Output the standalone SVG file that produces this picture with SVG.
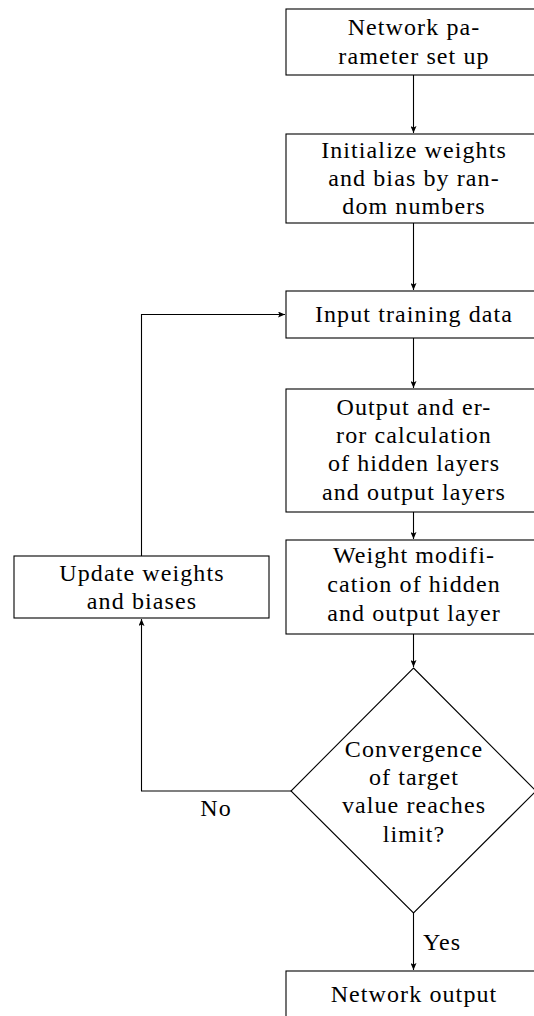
<svg xmlns="http://www.w3.org/2000/svg" width="534" height="1016" viewBox="0 0 534 1016">
<defs>
<marker id="ah" markerWidth="8" markerHeight="6" refX="7" refY="3" orient="auto" markerUnits="userSpaceOnUse">
<path d="M0,0 L7,3 L0,6 L1.5,3 Z" fill="#000"/>
</marker>
</defs>
<style>
.n{fill:#fff;stroke:#000;stroke-width:1.1}
.t{font-family:'Liberation Serif','Times New Roman',serif;font-size:24px;letter-spacing:1.1px;fill:#000;text-anchor:middle}
.c{fill:none;stroke:#000;stroke-width:1.1;marker-end:url(#ah)}
</style>
<rect width="534" height="1016" fill="#fff"/>
<g id="connectors">
<path class="c" d="M413.5,75 V133"/>
<path class="c" d="M413.5,223 V290"/>
<path class="c" d="M413.5,338 V388"/>
<path class="c" d="M413.5,512 V539"/>
<path class="c" d="M413.5,634 V667"/>
<path class="c" d="M141.5,556 V314.5 H285"/>
<path class="c" d="M291,791 H141.5 V619"/>
<path class="c" d="M413.5,913 V970"/>
<text class="t" x="216" y="816">No</text>
<text class="t" x="423" y="950" style="text-anchor:start">Yes</text>
</g>
<g id="n1"><rect class="n" x="286" y="9" width="255" height="66"/>
<text class="t" x="414" y="35">Network pa-</text><text class="t" x="414" y="63.5">rameter set up</text></g>
<g id="n2"><rect class="n" x="286" y="134" width="255" height="89"/>
<text class="t" x="414" y="158">Initialize weights</text><text class="t" x="414" y="186">and bias by ran-</text><text class="t" x="414" y="214">dom numbers</text></g>
<g id="n3"><rect class="n" x="286" y="291" width="255" height="47"/>
<text class="t" x="414" y="322">Input training data</text></g>
<g id="n4"><rect class="n" x="286" y="389" width="255" height="123"/>
<text class="t" x="414" y="415">Output and er-</text><text class="t" x="414" y="443">ror calculation</text><text class="t" x="414" y="471">of hidden layers</text><text class="t" x="414" y="500">and output layers</text></g>
<g id="n5"><rect class="n" x="286" y="540" width="255" height="94"/>
<text class="t" x="414" y="563">Weight modifi-</text><text class="t" x="414" y="592">cation of hidden</text><text class="t" x="414" y="621">and output layer</text></g>
<g id="n6"><rect class="n" x="14" y="556" width="255" height="62"/>
<text class="t" x="142" y="581">Update weights</text><text class="t" x="142" y="609">and biases</text></g>
<g id="n7"><path class="n" d="M413.5,668 L536,791 L413.5,913 L291,791 Z"/>
<text class="t" x="414" y="757">Convergence</text><text class="t" x="414" y="785">of target</text><text class="t" x="414" y="813">value reaches</text><text class="t" x="414" y="842">limit?</text></g>
<g id="n8"><rect class="n" x="286" y="971" width="255" height="50"/>
<text class="t" x="414" y="1002">Network output</text></g>
</svg>
